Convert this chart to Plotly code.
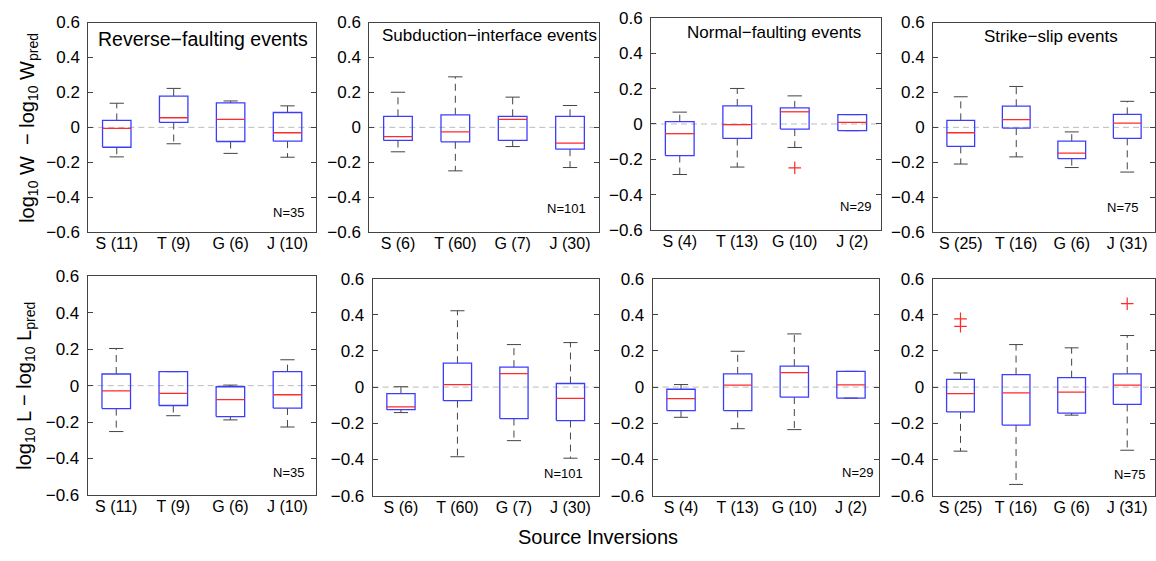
import plotly.graph_objects as go

W, H = 1156, 561
FONT = "Liberation Sans, Arial, Helvetica, sans-serif"

# ---------------- data ----------------
positions = [1, 2, 3, 4]

labels_rev = ["S (11)", "T (9)", "G (6)", "J (10)"]
labels_sub = ["S (6)", "T (60)", "G (7)", "J (30)"]
labels_nor = ["S (4)", "T (13)", "G (10)", "J (2)"]
labels_ss = ["S (25)", "T (16)", "G (6)", "J (31)"]

panel_titles = ["Reverse\u2212faulting events", "Subduction\u2212interface events",
                "Normal\u2212faulting events", "Strike\u2212slip events"]
n_labels = ["N=35", "N=101", "N=29", "N=75"]

y_ticks = [-0.6, -0.4, -0.2, 0, 0.2, 0.4, 0.6]

# each row: lower whisker, q1, median, q3, upper whisker  (rows S, T, G, J)
rev_w_box = [
    [-0.169, -0.114, -0.006, 0.040, 0.138],
    [-0.094, 0.028, 0.055, 0.179, 0.223],
    [-0.149, -0.081, 0.046, 0.140, 0.151],
    [-0.171, -0.079, -0.031, 0.085, 0.123],
]
sub_w_box = [
    [-0.140, -0.075, -0.053, 0.063, 0.201],
    [-0.249, -0.083, -0.026, 0.072, 0.289],
    [-0.110, -0.075, 0.046, 0.063, 0.173],
    [-0.230, -0.125, -0.090, 0.063, 0.125],
]
nor_w_box = [
    [-0.286, -0.179, -0.055, 0.013, 0.067],
    [-0.244, -0.082, -0.004, 0.102, 0.201],
    [-0.133, -0.029, 0.069, 0.091, 0.159],
    [-0.038, -0.038, 0.009, 0.053, 0.053],
]
ss_w_box = [
    [-0.210, -0.109, -0.031, 0.040, 0.175],
    [-0.169, -0.004, 0.044, 0.121, 0.234],
    [-0.230, -0.179, -0.147, -0.079, -0.026],
    [-0.256, -0.063, 0.024, 0.074, 0.149],
]
rev_l_box = [
    [-0.252, -0.126, -0.029, 0.064, 0.204],
    [-0.165, -0.109, -0.042, 0.077, 0.077],
    [-0.188, -0.170, -0.077, -0.006, 0.003],
    [-0.227, -0.123, -0.050, 0.077, 0.142],
]
sub_l_box = [
    [-0.141, -0.125, -0.109, -0.036, 0.002],
    [-0.385, -0.075, 0.014, 0.132, 0.422],
    [-0.296, -0.174, 0.075, 0.110, 0.235],
    [-0.393, -0.185, -0.062, 0.020, 0.246],
]
nor_l_box = [
    [-0.167, -0.130, -0.064, -0.012, 0.014],
    [-0.230, -0.130, 0.011, 0.073, 0.198],
    [-0.235, -0.055, 0.080, 0.116, 0.294],
    [-0.061, -0.061, 0.012, 0.087, 0.087],
]
ss_l_box = [
    [-0.354, -0.137, -0.036, 0.043, 0.078],
    [-0.538, -0.210, -0.032, 0.069, 0.235],
    [-0.155, -0.144, -0.028, 0.052, 0.217],
    [-0.349, -0.096, 0.011, 0.073, 0.285],
]

# outliers (position index, value)
nor_w_out_x = [3]
nor_w_out_y = [-0.248]
ss_l_out_x = [1, 1, 4]
ss_l_out_y = [0.377, 0.336, 0.461]

# ---------------- layout geometry (pixels) ----------------
# left, right, top, bottom
panel_px = [
    (88.3, 316.0, 14.0, 231.0),
    (369.3, 598.7, 14.0, 231.0),
    (651.0, 881.0, 9.3, 228.7),
    (933.0, 1155.0, 14.0, 231.0),
    (87.7, 316.0, 276.7, 503.0),
    (372.7, 598.7, 279.0, 503.7),
    (652.7, 879.3, 279.0, 503.7),
    (932.7, 1155.0, 279.0, 503.7),
]
title_px = [(203, 31, 19.5), (489.7, 27, 17), (774, 24, 17), (1050.7, 28, 17)]
n_px = [(288, 210.7), (566, 206.7), (855.3, 204), (1122.5, 205),
        (288, 480), (563, 481), (857, 479.3), (1129.7, 481.7)]


def px(x):
    return x / W


def py(y):
    return 1 - y / H


BOX_C = "#3c3cff"
MED_C = "#ff2a2a"
WH_C = "#444444"
AX_C = "#444444"

fig = go.Figure()

panels = [
    (rev_w_box, labels_rev, [], []),
    (sub_w_box, labels_sub, [], []),
    (nor_w_box, labels_nor, nor_w_out_x, nor_w_out_y),
    (ss_w_box, labels_ss, [], []),
    (rev_l_box, labels_rev, [], []),
    (sub_l_box, labels_sub, [], []),
    (nor_l_box, labels_nor, [], []),
    (ss_l_box, labels_ss, ss_l_out_x, ss_l_out_y),
]

HALF = 0.25
CAP = 0.125

for k, (stats, labels, ox, oy) in enumerate(panels, start=1):
    xa = "x" if k == 1 else f"x{k}"
    ya = "y" if k == 1 else f"y{k}"
    wx, wy, cx, cy, bx, by, mx, my = [], [], [], [], [], [], [], []
    for p, (lo, q1, med, q3, hi) in zip(positions, stats):
        wx += [p, p, None, p, p, None]
        wy += [q3, hi, None, q1, lo, None]
        cx += [p - CAP, p + CAP, None, p - CAP, p + CAP, None]
        cy += [hi, hi, None, lo, lo, None]
        bx += [p - HALF, p + HALF, p + HALF, p - HALF, p - HALF, None]
        by += [q1, q1, q3, q3, q1, None]
        mx += [p - HALF, p + HALF, None]
        my += [med, med, None]
    fig.add_trace(go.Scatter(x=wx, y=wy, mode="lines", xaxis=xa, yaxis=ya,
                             line=dict(color=WH_C, width=1, dash="7px,5px"),
                             hoverinfo="skip", showlegend=False))
    fig.add_trace(go.Scatter(x=cx, y=cy, mode="lines", xaxis=xa, yaxis=ya,
                             line=dict(color=WH_C, width=1),
                             hoverinfo="skip", showlegend=False))
    fig.add_trace(go.Scatter(x=bx, y=by, mode="lines", xaxis=xa, yaxis=ya,
                             line=dict(color=BOX_C, width=1.3),
                             hoverinfo="skip", showlegend=False))
    fig.add_trace(go.Scatter(x=mx, y=my, mode="lines", xaxis=xa, yaxis=ya,
                             line=dict(color=MED_C, width=1.3),
                             hoverinfo="skip", showlegend=False))
    if ox:
        fig.add_trace(go.Scatter(x=ox, y=oy, mode="markers", xaxis=xa, yaxis=ya,
                                 marker=dict(symbol="cross-thin", size=9,
                                             line=dict(color=MED_C, width=1.2)),
                                 hoverinfo="skip", showlegend=False))

    l, r, t, b = panel_px[k - 1]
    xkey = "xaxis" if k == 1 else f"xaxis{k}"
    ykey = "yaxis" if k == 1 else f"yaxis{k}"
    fig.layout[xkey] = dict(
        domain=[px(l), px(r)], range=[0.5, 4.5], anchor=ya,
        tickmode="array", tickvals=positions, ticktext=labels,
        showline=True, mirror=True, linecolor=AX_C, linewidth=1,
        ticks="", showgrid=False, zeroline=False, ticklabelstandoff=-3,
        tickfont=dict(size=16, color="black", family=FONT), fixedrange=True,
    )
    fig.layout[ykey] = dict(
        domain=[py(b), py(t)], range=[-0.6, 0.6], anchor=xa,
        tickmode="array", tickvals=y_ticks,
        showline=True, mirror="ticks", linecolor=AX_C, linewidth=1,
        ticks="inside", ticklen=5, tickcolor=AX_C,
        showgrid=False, zeroline=False, ticklabelstandoff=4,
        tickfont=dict(size=17, color="black", family=FONT), fixedrange=True,
    )
    # zero reference line
    fig.add_shape(type="line", xref=f"{xa} domain", yref=ya, x0=0, x1=1, y0=0, y1=0,
                  line=dict(color="#bbbbbb", width=1, dash="6px,4px"), layer="below")
    # N label
    nx, ny = n_px[k - 1]
    fig.add_annotation(x=px(nx), y=py(ny), xref="paper", yref="paper",
                       text=n_labels[(k - 1) % 4], showarrow=False,
                       font=dict(size=13, color="black", family=FONT),
                       xanchor="center", yanchor="middle")

for i, (tx, ty, fs) in enumerate(title_px):
    fig.add_annotation(x=px(tx), y=py(ty), xref="paper", yref="paper",
                       text=panel_titles[i], showarrow=False,
                       font=dict(size=fs, color="black", family=FONT),
                       xanchor="center", yanchor="middle")

fig.add_annotation(x=px(29), y=py(123), xref="paper", yref="paper",
                   text="log<sub>10</sub> W\u00a0\u00a0\u2212 log<sub>10</sub> W<sub>pred</sub>",
                   textangle=-90, showarrow=False,
                   font=dict(size=20, color="black", family=FONT),
                   xanchor="center", yanchor="middle")
fig.add_annotation(x=px(26), y=py(390), xref="paper", yref="paper",
                   text="log<sub>10</sub> L \u2212 log<sub>10</sub> L<sub>pred</sub>",
                   textangle=-90, showarrow=False,
                   font=dict(size=20, color="black", family=FONT),
                   xanchor="center", yanchor="middle")
fig.add_annotation(x=px(598), y=py(546), xref="paper", yref="paper",
                   text="Source Inversions", showarrow=False,
                   font=dict(size=20, color="black", family=FONT),
                   xanchor="center", yanchor="middle")

fig.update_layout(
    width=W, height=H, margin=dict(l=0, r=0, t=0, b=0),
    paper_bgcolor="white", plot_bgcolor="white",
    font=dict(family=FONT, color="black"), showlegend=False,
)

fig.write_html("out.html")
